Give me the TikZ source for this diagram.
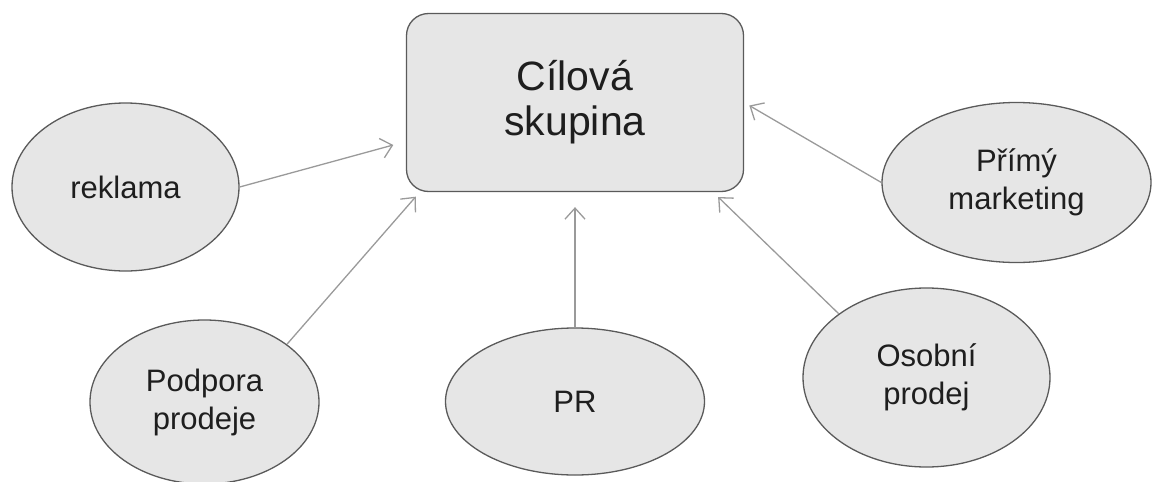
\documentclass[tikz,border=0pt]{standalone}
\usepackage{fontspec}
\setmainfont{Liberation Sans}
\usetikzlibrary{arrows.meta, shapes.geometric}

\definecolor{fillgray}{HTML}{E6E6E6}
\definecolor{edgegray}{HTML}{5A5A5A}
\definecolor{linegray}{HTML}{9A9A9A}
\definecolor{textgray}{HTML}{1E1E1E}

\begin{document}
\begin{tikzpicture}[
  x=1pt, y=-1pt,
  >={Straight Barb[length=11pt,width=20pt]},
  target/.style={
    rectangle, rounded corners=22pt,
    draw=edgegray, line width=1.3pt, fill=fillgray,
    minimum width=337pt, minimum height=178pt,
    align=center, text=textgray,
    font=\fontsize{41}{45}\selectfont
  },
  tool/.style={
    ellipse, draw=edgegray, line width=1.3pt, fill=fillgray,
    inner sep=0pt, align=center, text=textgray,
    font=\fontsize{31}{38}\selectfont
  },
  link/.style={->, draw=linegray, line width=1.3pt},
]
\useasboundingbox (0,0) rectangle (1152,482);

% --- centre ---
\node[target] (CIL) at (575,102.5) {Cílová\\ skupina};

% --- tools round it ---
\node[tool, minimum width=227pt, minimum height=168pt] (REK) at (125.5,187) {reklama};
\node[tool, minimum width=229pt, minimum height=164pt] (POD) at (204.5,402) {Podpora\\ prodeje};
\node[tool, minimum width=259pt, minimum height=147pt] (PR) at (575,401.5) {PR};
\node[tool, minimum width=247pt, minimum height=179pt] (OSO) at (926.5,377.5) {Osobní\\ prodej};
\node[tool, minimum width=269pt, minimum height=160pt] (PRI) at (1016.5,182.5) {Přímý\\ marketing};

% --- arrows ---
\draw[link, shorten >=13pt] (REK.east) -- (CIL.193);
\draw[link, shorten >=6pt] (POD.35) -- (CIL.210);
\draw[link, shorten >=15pt] (PR.north) -- (CIL.south);
\draw[link, shorten >=7pt] (OSO.144) -- (CIL.327);
\draw[link, shorten >=6pt] (PRI.west) -- (CIL.east);

\end{tikzpicture}
\end{document}
